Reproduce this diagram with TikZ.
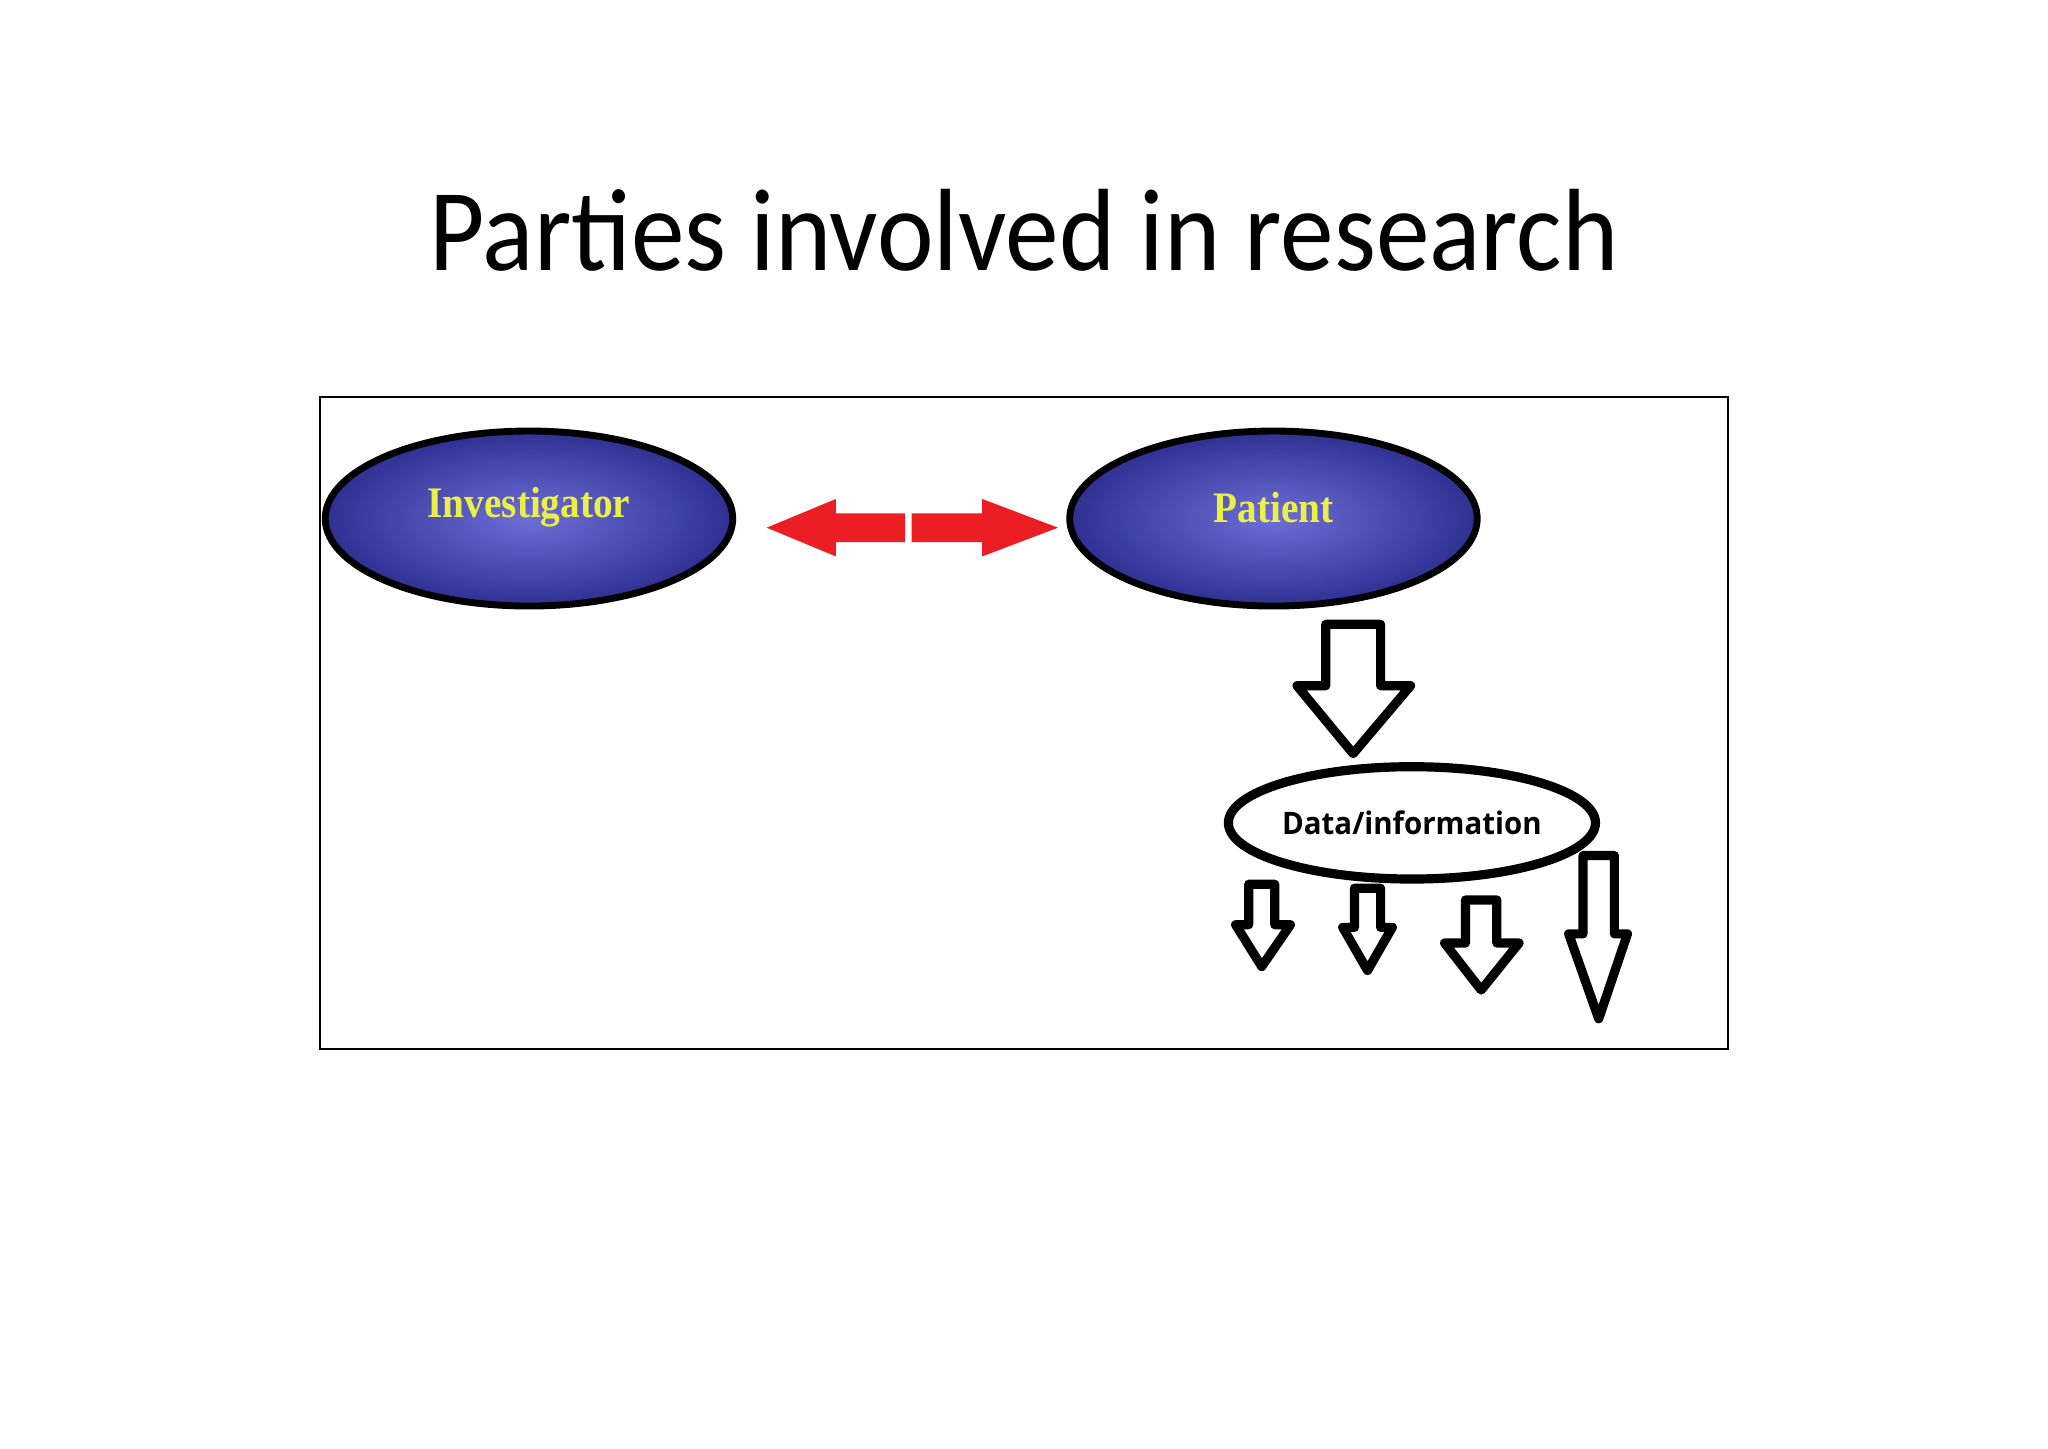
\documentclass[tikz,border=0pt]{standalone}
\usepackage{fontspec}
\setmainfont{Carlito}
\newfontfamily\serifb{Liberation Serif}
\newfontfamily\sansb{Open Sans}
\usetikzlibrary{shapes.geometric}
\newcommand\harrow[7]{\draw[line width=4pt,line join=round,fill=white] (#1,#3)--(#2,#3)--(#2,#4)--(#6,#4)--({(#1+#2)/2},#7)--(#5,#4)--(#1,#4)--cycle;}
\begin{document}
\begin{tikzpicture}[x=0.02cm,y=-0.02cm,
 blueell/.style={ellipse,draw=black,line width=3pt,minimum width=312*0.02cm,minimum height=134*0.02cm,inner color={rgb,255:red,110;green,110;blue,215},outer color={rgb,255:red,46;green,49;blue,146}},
 ylab/.style={text={rgb,255:red,235;green,240;blue,70},font=\serifb\bfseries\fontsize{19}{22}\selectfont}]
\useasboundingbox (0,0) rectangle (1568,1109);
\node[font=\fontsize{51}{60}\selectfont,xscale=0.916] (title) at (784,176) {Parties involved in research};
\draw[line width=0.8pt] (245,304) rectangle (1323,803);
\node[blueell] (inv) at (405,397) {};
\node[ylab,xscale=0.9] at (inv.center) [yshift=0.17cm] {Investigator};
\node[blueell] (pat) at (975,397) {};
\node[ylab,xscale=0.9] at (pat.center) [yshift=0.17cm] {Patient};
\fill[fill={rgb,255:red,235;green,30;blue,35}] (587,404)--(640,382)--(640,393)--(693,393)--(693,415)--(640,415)--(640,426)--cycle;
\fill[fill={rgb,255:red,235;green,30;blue,35}] (810,404)--(752,382)--(752,393)--(698,393)--(698,415)--(752,415)--(752,426)--cycle;
\harrow{1015}{1057}{478}{525}{993}{1080}{577}
\node[ellipse,draw,line width=4pt,inner sep=0pt,minimum width=256*0.02cm,minimum height=86*0.02cm,font=\sansb\bfseries\fontsize{13.5}{16}\selectfont] (data) at (1081,630) {\scalebox{0.95}[1]{Data/information}};
\harrow{956}{976}{677}{708}{946}{988}{740}
\harrow{1037}{1057}{680}{710}{1028}{1066}{743}
\harrow{1122}{1146}{689}{722}{1106}{1163}{758}
\harrow{1212}{1236}{655}{715}{1201}{1246}{780}
\end{tikzpicture}
\end{document}
